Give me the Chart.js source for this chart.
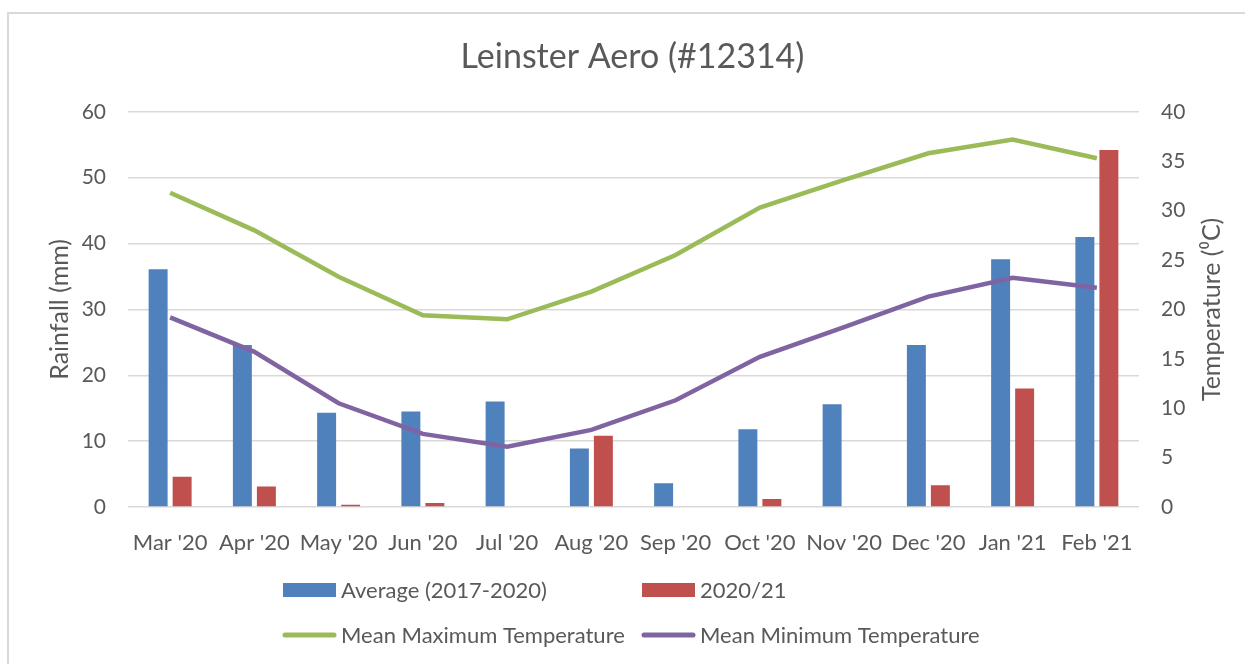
<!DOCTYPE html>
<html>
<head>
<meta charset="utf-8">
<script src="https://cdn.jsdelivr.net/npm/chart.js@4/dist/chart.umd.min.js"></script>
<style>
  html, body { margin: 0; padding: 0; background: #fff; overflow: hidden; }
  #frame { position: absolute; left: 7px; top: 12px; width: 1300px; height: 700px; border: 2px solid #d9d9d9; }
  #wrap { position: absolute; left: 0; top: 0; width: 1245px; height: 664px; }
</style>
</head>
<body>
<div id="frame"></div>
<div id="wrap"><canvas id="rainChart" width="1245" height="664"></canvas></div>
<script>
// data
var months = ["Mar '20", "Apr '20", "May '20", "Jun '20", "Jul '20", "Aug '20", "Sep '20", "Oct '20", "Nov '20", "Dec '20", "Jan '21", "Feb '21"];
var rainAverage = [36.1, 24.6, 14.3, 14.5, 16.0, 8.9, 3.6, 11.8, 15.6, 24.6, 37.6, 41.0];
var rain2020 = [4.6, 3.1, 0.35, 0.6, 0, 10.8, 0, 1.2, 0, 3.3, 18.0, 54.2];
var tempMax = [31.8, 28.0, 23.3, 19.4, 19.0, 21.8, 25.5, 30.3, 33.1, 35.8, 37.2, 35.3];
var tempMin = [19.2, 15.7, 10.5, 7.4, 6.1, 7.8, 10.8, 15.2, 18.2, 21.3, 23.2, 22.2];

var textColor = '#595959';
var fontName = 'Lato, "Open Sans", sans-serif';

// legend like excel : two rows, two columns
// + right axis title that reads bottom to top
var excelLegend = {
  id: 'excelLegend',
  afterDraw: function(chart) {
    var ctx = chart.ctx;
    var ds = chart.data.datasets;
    var cols = [283, 642];
    var rows = [590, 635];
    ctx.save();
    ctx.font = '22px ' + fontName;
    ctx.fillStyle = textColor;
    ctx.textBaseline = 'middle';
    for (var i = 0; i < ds.length; i++) {
      var x = cols[i % 2];
      var y = rows[Math.floor(i / 2)];
      if (ds[i].type === 'line') {
        ctx.strokeStyle = ds[i].borderColor;
        ctx.lineWidth = 5;
        ctx.lineCap = 'round';
        ctx.beginPath();
        ctx.moveTo(x + 2, y);
        ctx.lineTo(x + 51, y);
        ctx.stroke();
      } else {
        ctx.fillStyle = ds[i].backgroundColor;
        ctx.fillRect(x, y - 7, 53, 14);
      }
      ctx.fillStyle = textColor;
      ctx.textAlign = 'left';
      ctx.fillText(ds[i].label, x + 58, y + 1);
    }

    var area = chart.chartArea;
    ctx.translate(1212, (area.top + area.bottom) / 2);
    ctx.rotate(-Math.PI / 2);
    ctx.font = '25px ' + fontName;
    ctx.textAlign = 'center';
    ctx.fillText('Temperature (\u2070C)', 0, 0);
    ctx.restore();
  }
};

var ctx = document.getElementById('rainChart').getContext('2d');
var rainChart = new Chart(ctx, {
  data: {
    labels: months,
    datasets: [
      {
        type: 'bar',
        label: 'Average (2017-2020)',
        data: rainAverage,
        backgroundColor: '#4F81BD',
        yAxisID: 'y',
        order: 2,
        categoryPercentage: 0.57,
        barPercentage: 0.79
      },
      {
        type: 'bar',
        label: '2020/21',
        data: rain2020,
        backgroundColor: '#C0504D',
        yAxisID: 'y',
        order: 2,
        categoryPercentage: 0.57,
        barPercentage: 0.79
      },
      {
        type: 'line',
        label: 'Mean Maximum Temperature',
        data: tempMax,
        borderColor: '#9BBB59',
        borderWidth: 4.5,
        pointRadius: 0,
        tension: 0,
        yAxisID: 'y1',
        order: 1
      },
      {
        type: 'line',
        label: 'Mean Minimum Temperature',
        data: tempMin,
        borderColor: '#8064A2',
        borderWidth: 4.5,
        pointRadius: 0,
        tension: 0,
        yAxisID: 'y1',
        order: 1
      }
    ]
  },
  options: {
    responsive: false,
    animation: false,
    // left padding 20 moves the title centre over to where excel put it
    layout: { padding: { top: 0, bottom: 107, left: 20, right: 0 } },
    plugins: {
      legend: { display: false },
      tooltip: { enabled: false },
      title: {
        display: true,
        text: 'Leinster Aero (#12314)',
        color: textColor,
        font: { family: fontName, size: 34, weight: 'normal', lineHeight: 1.2 },
        padding: { top: 37, bottom: 34 }
      }
    },
    scales: {
      x: {
        grid: { display: false },
        border: { display: false },
        ticks: { color: textColor, font: { family: fontName, size: 22 }, padding: 15, maxRotation: 0, autoSkip: false },
        afterFit: function(scale) { scale.height = 50; }
      },
      y: {
        position: 'left',
        min: 0,
        max: 60,
        ticks: { stepSize: 10, color: textColor, font: { family: fontName, size: 21 }, padding: 22 },
        grid: { color: '#d9d9d9', lineWidth: 1.5, drawTicks: false },
        border: { display: false },
        title: {
          display: true,
          text: 'Rainfall (mm)',
          color: textColor,
          font: { family: fontName, size: 25, lineHeight: 1.2 },
          padding: { top: 25, bottom: 0 }
        },
        afterFit: function(scale) { scale.width = 108; }
      },
      y1: {
        position: 'right',
        min: 0,
        max: 40,
        ticks: { stepSize: 5, color: textColor, font: { family: fontName, size: 21 }, padding: 22 },
        grid: { display: false, drawTicks: false },
        border: { display: false },
        afterFit: function(scale) { scale.width = 106; }
      }
    }
  },
  plugins: [excelLegend]
});
</script>
</body>
</html>
